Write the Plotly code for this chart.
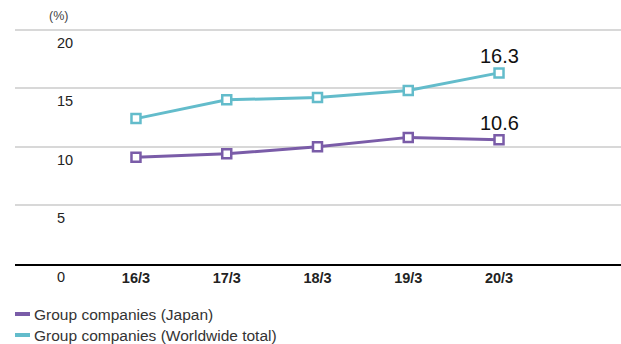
import plotly.graph_objects as go

categories = ["16/3", "17/3", "18/3", "19/3", "20/3"]
japan = [9.1, 9.4, 10.0, 10.8, 10.6]
worldwide = [12.4, 14.0, 14.2, 14.8, 16.3]
y_ticks = [0, 5, 10, 15, 20]
series_names = ["Group companies (Japan)", "Group companies (Worldwide total)"]

PURPLE = "#7a5ca8"
TEAL = "#63bccb"
FONT = "Liberation Sans, Arial, sans-serif"

xpos = list(range(len(categories)))

fig = go.Figure()
for vals, col in [(worldwide, TEAL), (japan, PURPLE)]:
    fig.add_trace(go.Scatter(
        x=xpos, y=vals, mode="lines+markers",
        line=dict(color=col, width=3),
        marker=dict(symbol="square", size=9, color="white",
                    line=dict(color=col, width=2.5)),
        showlegend=False, hoverinfo="skip", cliponaxis=False))

# value labels on last points
for vals in (worldwide, japan):
    fig.add_annotation(x=xpos[-1], y=vals[-1], text=f"{vals[-1]:.1f}",
                       showarrow=False, yanchor="bottom", yshift=4,
                       font=dict(size=20, color="#111", family=FONT))

# y tick labels under gridlines
for t in y_ticks:
    fig.add_annotation(xref="paper", x=0.066, y=t, text=str(t), showarrow=False,
                       yanchor="top", yshift=-3,
                       font=dict(size=14.5, color="#222", family=FONT))

fig.add_annotation(xref="paper", yref="y", x=0.053, y=20, text="(%)",
                   showarrow=False, yanchor="bottom", yshift=5,
                   font=dict(size=12.5, color="#444", family=FONT))

# legend
PLOT_H = 344 - 26 - 80
for i, (name, col) in enumerate(zip(series_names, [PURPLE, TEAL])):
    ypix = 314 + i * 21
    yp = (264 - ypix) / PLOT_H
    fig.add_shape(type="line", xref="paper", yref="paper",
                  x0=0, x1=15 / 606, y0=yp, y1=yp,
                  line=dict(color=col, width=4))
    fig.add_annotation(xref="paper", yref="paper", x=17 / 606, y=yp, text=name,
                       showarrow=False, xanchor="left", yanchor="middle",
                       font=dict(size=15.5, color="#333", family=FONT))

fig.update_layout(
    width=621, height=344,
    margin=dict(l=15, r=0, t=26, b=80),
    plot_bgcolor="white", paper_bgcolor="white",
    xaxis=dict(range=[-1.333, 5.344], tickvals=xpos,
               ticktext=[f"<b>{c}</b>" for c in categories],
               showgrid=False, zeroline=False, showline=True,
               linecolor="black", linewidth=1.5,
               tickfont=dict(size=14.5, color="#222", family=FONT), ticks=""),
    yaxis=dict(range=[0, 20.3], tickvals=y_ticks, showticklabels=False,
               showgrid=True, gridcolor="#d8d8d8", gridwidth=1.5,
               zeroline=False, showline=False),
)

fig.write_html("out.html")
